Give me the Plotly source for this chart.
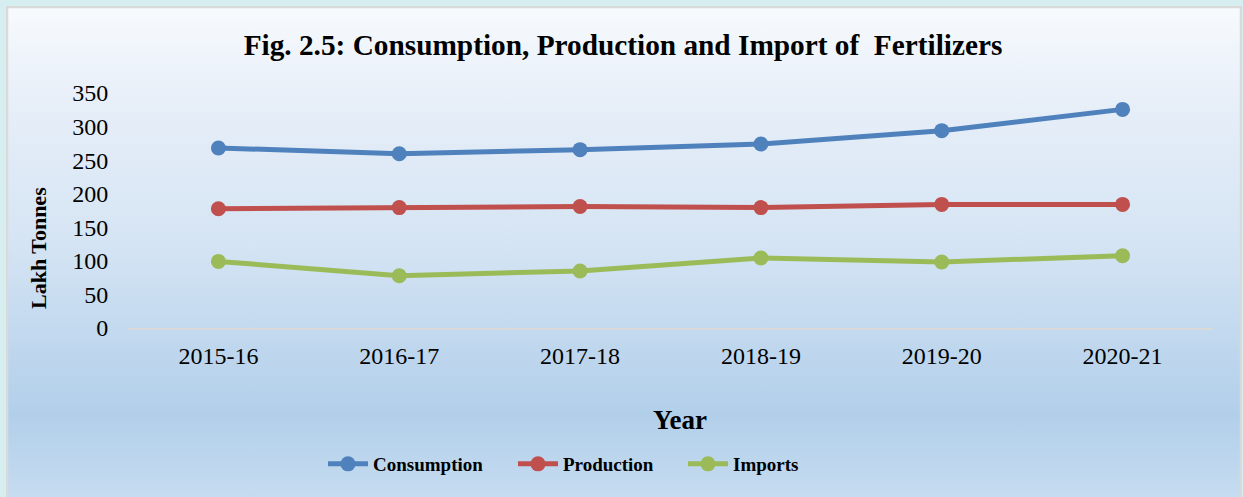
import base64
import plotly.graph_objects as go

years = ["2015-16", "2016-17", "2017-18", "2018-19", "2019-20", "2020-21"]
consumption = [268.1, 259.6, 265.6, 274.0, 293.9, 325.6]
production = [177.7, 179.3, 180.9, 179.3, 184.1, 184.1]
imports = [99.2, 77.9, 84.9, 104.3, 98.3, 107.7]

series = [
    ("Consumption", consumption, "#4f81bd"),
    ("Production", production, "#c0504d"),
    ("Imports", imports, "#9bbb59"),
]
legend_ids = ["legend", "legend2", "legend3"]
legend_px = [323, 513, 683]

FONT = "Liberation Serif, Times New Roman, serif"
W, H = 1243, 497
L, R, T, B = 128, 30, 93, 169
PW, PH = W - L - R, H - T - B


def px_to_paper_x(x):
    return (x - L) / PW


def px_to_paper_y(y):
    return (H - B - y) / PH


svg = (
    "<svg xmlns='http://www.w3.org/2000/svg' width='1236' height='500' "
    "viewBox='0 0 1236 500' preserveAspectRatio='none'>"
    "<defs><linearGradient id='g' x1='0' y1='0' x2='0' y2='1'>"
    "<stop offset='0' stop-color='#f7fafd'/>"
    "<stop offset='0.2' stop-color='#e6eef8'/>"
    "<stop offset='0.45' stop-color='#d6e5f4'/>"
    "<stop offset='0.62' stop-color='#c4daef'/>"
    "<stop offset='0.8' stop-color='#b2cfea'/>"
    "<stop offset='1' stop-color='#cadff2'/>"
    "</linearGradient></defs>"
    "<rect x='1' y='1' width='1234' height='510' fill='url(#g)' "
    "stroke='#d9d9d9' stroke-width='2.5'/></svg>"
)
uri = "data:image/svg+xml;base64," + base64.b64encode(svg.encode()).decode()

fig = go.Figure()
for (name, vals, color), lid in zip(series, legend_ids):
    fig.add_trace(
        go.Scatter(
            x=years,
            y=vals,
            name="<b>" + name + "</b>",
            mode="lines+markers",
            line=dict(color=color, width=5),
            marker=dict(color=color, size=15),
            legend=lid,
        )
    )

legend_common = dict(
    orientation="h",
    xanchor="left",
    y=px_to_paper_y(464),
    yanchor="middle",
    bgcolor="rgba(0,0,0,0)",
    font=dict(family=FONT, size=19),
    itemwidth=40,
)

fig.update_layout(
    width=W,
    height=H,
    margin=dict(l=L, r=R, t=T, b=B),
    paper_bgcolor="#d7eef0",
    plot_bgcolor="rgba(0,0,0,0)",
    font=dict(family=FONT, color="#000000", size=24),
    title=dict(
        text="<b>Fig. 2.5: Consumption, Production and Import of  Fertilizers</b>",
        x=623 / W,
        xanchor="center",
        xref="container",
        y=1 - 45 / H,
        yanchor="middle",
        yref="container",
        font=dict(family=FONT, size=29.3, color="#000000"),
    ),
    xaxis=dict(
        type="category",
        range=[-0.5, 5.5],
        showgrid=False,
        zeroline=False,
        showline=True,
        linecolor="#d9d9d9",
        linewidth=2,
        ticks="outside",
        ticklen=5,
        tickcolor="rgba(0,0,0,0)",
        tickfont=dict(family=FONT, size=24),
    ),
    yaxis=dict(
        range=[0, 350],
        tickvals=[0, 50, 100, 150, 200, 250, 300, 350],
        showgrid=False,
        zeroline=False,
        showline=False,
        ticks="outside",
        ticklen=14,
        tickcolor="rgba(0,0,0,0)",
        tickfont=dict(family=FONT, size=24),
    ),
    showlegend=True,
    legend=dict(x=px_to_paper_x(legend_px[0]), **legend_common),
    legend2=dict(x=px_to_paper_x(legend_px[1]), **legend_common),
    legend3=dict(x=px_to_paper_x(legend_px[2]), **legend_common),
    images=[
        dict(
            source=uri,
            xref="paper",
            yref="paper",
            x=px_to_paper_x(6),
            y=px_to_paper_y(6),
            sizex=1236 / PW,
            sizey=500 / PH,
            xanchor="left",
            yanchor="top",
            sizing="stretch",
            layer="below",
        )
    ],
    annotations=[
        dict(
            text="<b>Year</b>",
            xref="paper",
            yref="paper",
            x=px_to_paper_x(680),
            y=px_to_paper_y(420),
            xanchor="center",
            yanchor="middle",
            showarrow=False,
            font=dict(family=FONT, size=27),
        ),
        dict(
            text="<b>Lakh Tonnes</b>",
            xref="paper",
            yref="paper",
            x=px_to_paper_x(38),
            y=px_to_paper_y(248),
            xanchor="center",
            yanchor="middle",
            textangle=-90,
            showarrow=False,
            font=dict(family=FONT, size=22),
        ),
    ],
)

fig.write_html(
    "out.html",
    config={"displayModeBar": False},
    post_script="document.body.style.margin='0';document.body.style.padding='0';",
)
